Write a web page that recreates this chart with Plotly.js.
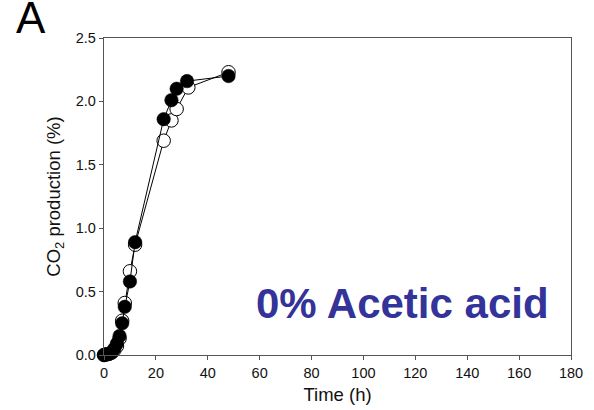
<!DOCTYPE html>
<html>
<head>
<meta charset="utf-8">
<script src="https://cdn.plot.ly/plotly-3.0.1.min.js"></script>
<style>html,body{margin:0;padding:0;background:#fff;}#chart{width:594px;height:410px;}</style>
</head>
<body>
<div id="chart"></div>
<script>
// Time (h) and CO2 production (%)
const timeOpen   = [0, 1, 2, 3, 4, 5, 6, 7, 8, 10, 12, 23, 26, 28, 32.5, 48];
const co2Open    = [0, 0.005, 0.01, 0.02, 0.04, 0.07, 0.13, 0.27, 0.41, 0.66, 0.87, 1.69, 1.85, 1.94, 2.11, 2.23];
const timeFilled = [0, 1, 2, 3, 4, 5, 6, 7, 8, 10, 12, 23, 26, 28, 32, 48];
const co2Filled  = [0, 0.005, 0.01, 0.02, 0.05, 0.09, 0.15, 0.25, 0.38, 0.58, 0.89, 1.86, 2.01, 2.10, 2.16, 2.20];
const xTicks = [0, 20, 40, 60, 80, 100, 120, 140, 160, 180];
const yTicks = [0, 0.5, 1.0, 1.5, 2.0, 2.5];
const panelLabel = "A";
const conditionLabel = "0% Acetic acid";
const xTitle = "Time (h)";
const yTitle = "CO<sub>2</sub> production (%)";

const FONT = "Arial, 'Liberation Sans', Helvetica, sans-serif";

const traces = [
  {
    x: timeOpen, y: co2Open, type: "scatter", mode: "lines+markers",
    line: {color: "#000", width: 1},
    marker: {symbol: "circle", size: 13.5, color: "#fff", line: {color: "#000", width: 1}},
    cliponaxis: false, showlegend: false, hoverinfo: "skip"
  },
  {
    x: timeFilled, y: co2Filled, type: "scatter", mode: "lines+markers",
    line: {color: "#000", width: 1},
    marker: {symbol: "circle", size: 13.5, color: "#000", line: {color: "#000", width: 0.5}},
    cliponaxis: false, showlegend: false, hoverinfo: "skip"
  }
];

const layout = {
  width: 594, height: 410,
  margin: {l: 103.5, r: 22.5, t: 38, b: 55, pad: 0},
  paper_bgcolor: "#fff", plot_bgcolor: "#fff",
  font: {family: FONT, color: "#000"},
  xaxis: {
    range: [0, 180], tickvals: xTicks, ticktext: xTicks.map(String),
    showgrid: false, zeroline: false, showline: true, mirror: true,
    linecolor: "#555", linewidth: 1.2,
    ticks: "outside", ticklen: 4, tickcolor: "#555", tickwidth: 1,
    tickfont: {size: 14.5, family: FONT, color: "#111"},
    title: {text: xTitle, font: {size: 18.5, family: FONT, color: "#111"}, standoff: 8}
  },
  yaxis: {
    range: [0, 2.5], tickvals: yTicks, ticktext: yTicks.map(v => v.toFixed(1)),
    showgrid: false, zeroline: false, showline: true, mirror: true,
    linecolor: "#555", linewidth: 1.2,
    ticks: "outside", ticklen: 4, tickcolor: "#555", tickwidth: 1,
    tickfont: {size: 14.5, family: FONT, color: "#111"},
    title: {text: yTitle, font: {size: 18.5, family: FONT, color: "#111"}, standoff: 10}
  },
  annotations: [
    {
      text: panelLabel, xref: "paper", yref: "paper",
      x: (13 - 103.5) / 468, y: 1.148, xanchor: "left", yanchor: "top",
      showarrow: false, font: {size: 44, family: FONT, color: "#000"}
    },
    {
      text: conditionLabel, xref: "x", yref: "y",
      x: 58.0, y: 0.41, xanchor: "left", yanchor: "middle",
      showarrow: false, font: {size: 42, family: FONT, color: "#333399", weight: "bold"}
    }
  ]
};

Plotly.newPlot("chart", traces, layout, {displayModeBar: false, staticPlot: true});
</script>
</body>
</html>
